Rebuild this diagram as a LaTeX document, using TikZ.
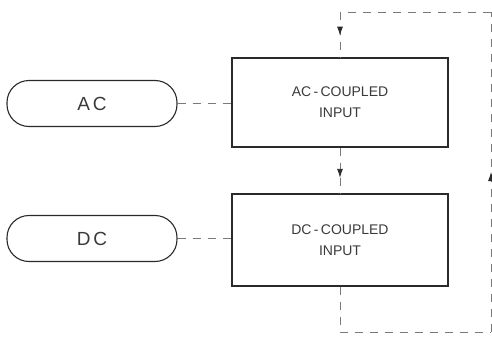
\documentclass[tikz,border=0pt]{standalone}
\usepackage{fontspec}
\setmainfont{Liberation Sans}
\usetikzlibrary{arrows.meta,decorations.markings}
\definecolor{inkc}{HTML}{2A2A2A}
\definecolor{dashc}{HTML}{7A7A7A}
\definecolor{txtc}{HTML}{3A3A3A}
\tikzset{
  pill/.style={draw=inkc, line width=1.1pt, rounded corners=22pt, minimum width=170pt, minimum height=46pt, inner sep=0pt, text=txtc, font=\fontsize{19}{22}\selectfont},
  blk/.style={draw=inkc, line width=1.1pt, minimum width=216pt, inner sep=0pt, align=center, text=txtc, font=\fontsize{14}{21}\selectfont},
  dashline/.style={draw=dashc, line width=0.9pt, dash pattern=on 8pt off 7pt},
  midarrow/.style={postaction={decorate, decoration={markings, mark=at position #1 with {\arrow[inkc]{Latex[length=9pt,width=6pt]}}}}}
}
\begin{document}
\begin{tikzpicture}[x=1pt,y=-1pt]
\useasboundingbox (0,0) rectangle (492,337);
\node[pill] (ac) at (92,103.5) {A\hspace{3pt}C};
\node[pill] (dc) at (92,238.5) {D\hspace{3pt}C};
\node[blk, minimum height=89pt] (acb) at (340,102.5) {AC\,-\,COUPLED\\INPUT};
\node[blk, minimum height=92pt] (dcb) at (340,240) {DC\,-\,COUPLED\\INPUT};
\coordinate (tl) at (340,12);
\coordinate (tr) at (491,12);
\coordinate (br) at (491,332);
\coordinate (bl) at (340,332);
\draw[dashline] (ac.east) -- (ac.east -| acb.west);
\draw[dashline] (dc.east) -- (dc.east -| dcb.west);
\draw[dashline, midarrow=0.52] (tl) -- (acb.north);
\draw[dashline, midarrow=0.66] (acb.south) -- (dcb.north);
\draw[dashline] (dcb.south) -- (bl) -- (br);
\draw[dashline, midarrow=0.5] (br) -- (tr);
\draw[dashline] (tr) -- (tl);
\end{tikzpicture}
\end{document}
